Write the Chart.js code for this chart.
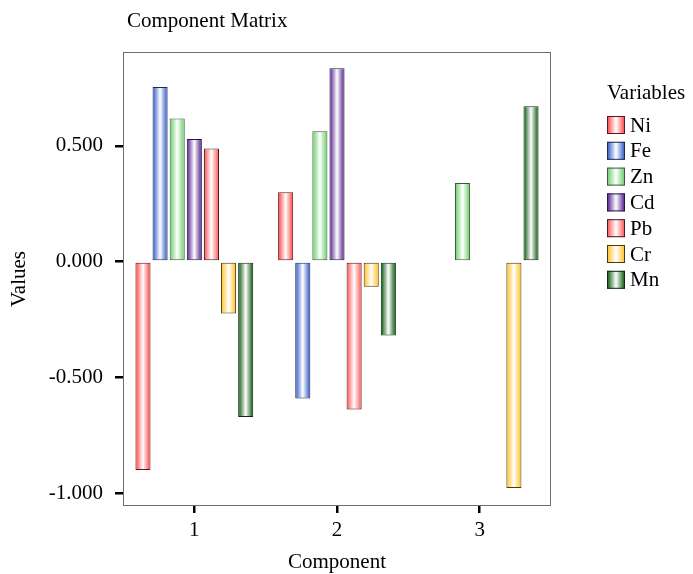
<!DOCTYPE html>
<html>
<head>
<meta charset="utf-8">
<script src="https://cdn.jsdelivr.net/npm/chart.js@4.4.1/dist/chart.umd.min.js"></script>
<style>
  html, body { margin: 0; padding: 0; background: #fff; }
  #wrap { width: 693px; height: 574px; }
</style>
</head>
<body>
<div id="wrap"><canvas id="chart"></canvas></div>
<script>
// data
const components = ["1", "2", "3"];
const variables = ["Ni", "Fe", "Zn", "Cd", "Pb", "Cr", "Mn"];
const ni = [-0.900, 0.299, null];
const fe = [0.754, -0.592, null];
const zn = [0.618, 0.563, 0.339];
const cd = [0.529, 0.835, null];
const pb = [0.488, -0.639, null];
const cr = [-0.224, -0.109, -0.978];
const mn = [-0.672, -0.320, 0.671];
const yTicks = [-1.0, -0.5, 0.0, 0.5];

const series = [ni, fe, zn, cd, pb, cr, mn];
const colors = ["#ff5c5c", "#4a6fcc", "#7fd37f", "#6a3a9e", "#ff6b6b", "#ffc940", "#2a6e2a"];
const borders = ["#5a1a1a", "#1c2a55", "#3a5a3a", "#2a1540", "#4a1a1a", "#4a3a10", "#102a10"];

const FONT = "'Liberation Serif', 'Times New Roman', serif";

function makeGrad(ctx, x0, x1, col) {
    const g = ctx.createLinearGradient(x0, 0, x1, 0);
    g.addColorStop(0.08, col);
    g.addColorStop(0.5, "#ffffff");
    g.addColorStop(0.92, col);
    return g;
}

// gradient fill per bar + frame, titles and legend
const decor = {
    id: "decor",
    beforeDatasetsDraw(chart) {
        const ctx = chart.ctx;
        chart.data.datasets.forEach((ds, i) => {
            chart.getDatasetMeta(i).data.forEach(bar => {
                const w = bar.width;
                // own copy, the resolved options are shared between bars
                bar.options = Object.assign({}, bar.options, {
                    backgroundColor: makeGrad(ctx, bar.x - w / 2, bar.x + w / 2, colors[i])
                });
            });
        });
    },
    afterDraw(chart) {
        const ctx = chart.ctx;
        const a = chart.chartArea;
        ctx.save();
        // plot frame
        ctx.strokeStyle = "#6e6e6e";
        ctx.lineWidth = 1;
        ctx.strokeRect(a.left + 0.5, a.top + 0.5, a.right - a.left - 1, a.bottom - a.top - 1);

        ctx.fillStyle = "#000";
        ctx.font = "21px " + FONT;
        ctx.textBaseline = "middle";
        ctx.textAlign = "left";
        ctx.fillText("Component Matrix", 127, 21);

        ctx.textAlign = "center";
        ctx.fillText("Component", (a.left + a.right) / 2, 562);

        ctx.save();
        ctx.translate(19, (a.top + a.bottom) / 2);
        ctx.rotate(-Math.PI / 2);
        ctx.fillText("Values", 0, 0);
        ctx.restore();

        // legend
        ctx.textAlign = "left";
        ctx.fillText("Variables", 607, 93);
        variables.forEach((v, i) => {
            const y = 116 + i * 25.8;
            ctx.fillStyle = makeGrad(ctx, 607, 625, colors[i]);
            ctx.fillRect(607, y, 18, 18);
            ctx.strokeStyle = borders[i];
            ctx.lineWidth = 1;
            ctx.strokeRect(607.5, y + 0.5, 17, 17);
            ctx.fillStyle = "#000";
            ctx.fillText(v, 630, y + 10);
        });
        ctx.restore();
    }
};

new Chart(document.getElementById("chart"), {
    type: "bar",
    data: {
        labels: components,
        datasets: variables.map((v, i) => ({
            label: v,
            data: series[i],
            backgroundColor: colors[i],
            borderColor: borders[i],
            borderWidth: 1,
            borderSkipped: false,
            categoryPercentage: 0.84,
            barPercentage: 0.88
        }))
    },
    options: {
        responsive: true,
        maintainAspectRatio: false,
        animation: false,
        layout: { padding: { top: 52, right: 142, left: 0, bottom: 0 } },
        plugins: {
            legend: { display: false },
            tooltip: { enabled: false }
        },
        scales: {
            x: {
                grid: { display: true, offset: false, drawOnChartArea: false, drawTicks: true, tickLength: 7, color: "#000", lineWidth: 2.5 },
                border: { display: false },
                ticks: { color: "#000", font: { family: FONT, size: 21 }, padding: 5 },
                afterFit: s => { s.height = 68; }
            },
            y: {
                min: -1.056,
                max: 0.905,
                grid: { display: true, drawOnChartArea: false, drawTicks: true, tickLength: 8, color: "#000", lineWidth: 2.5 },
                border: { display: false },
                afterBuildTicks: s => { s.ticks = yTicks.map(v => ({ value: v })); },
                ticks: {
                    color: "#000",
                    font: { family: FONT, size: 21 },
                    padding: 12,
                    callback: v => v.toFixed(3)
                },
                afterFit: s => { s.width = 123; }
            }
        }
    },
    plugins: [decor]
});
</script>
</body>
</html>
